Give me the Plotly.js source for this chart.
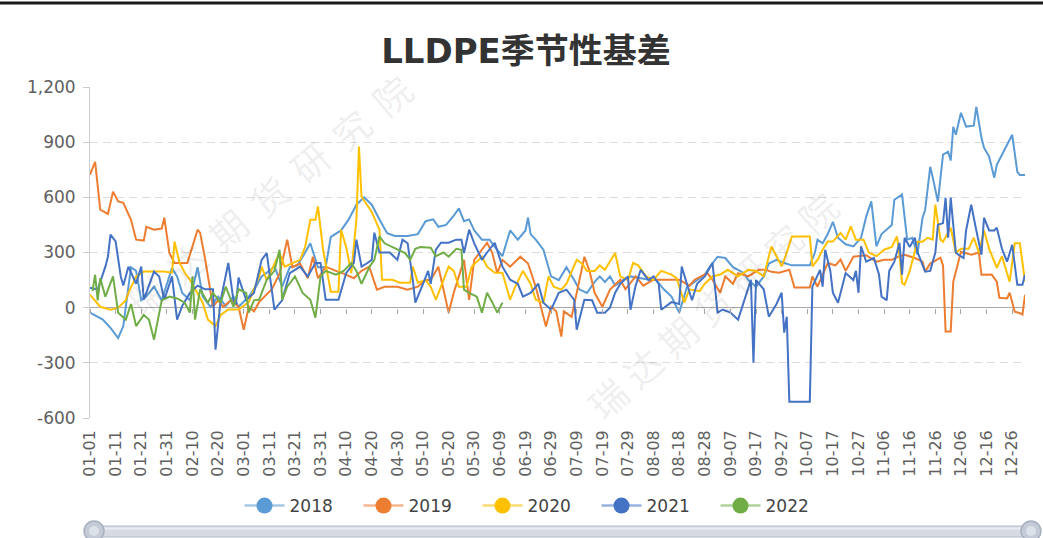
<!DOCTYPE html>
<html>
<head>
<meta charset="utf-8">
<script src="https://cdn.plot.ly/plotly-3.0.1.min.js"></script>
<style>
html,body{margin:0;padding:0;background:#fff;}
#chart{width:1043px;height:538px;}
</style>
</head>
<body>
<div id="chart"></div>
<script>
// ---------- data ----------
const chartTitle = 'LLDPE季节性基差';
const watermarkText = '瑞达期货研究院';
const seriesNames = ['2018', '2019', '2020', '2021', '2022'];
const seriesColors = ['#5B9BD5', '#ED7D31', '#FFC000', '#4472C4', '#70AD47'];
const legendLineColors = ['rgba(91,155,213,0.55)', 'rgba(237,125,49,0.55)', 'rgba(255,192,0,0.55)', 'rgba(68,114,196,0.55)', 'rgba(112,173,71,0.55)'];

const tickLabels = ['01-01','01-11','01-21','01-31','02-10','02-20','03-01','03-11','03-21','03-31','04-10','04-20','04-30','05-10','05-20','05-30','06-09','06-19','06-29','07-09','07-19','07-29','08-08','08-18','08-28','09-07','09-17','09-27','10-07','10-17','10-27','11-06','11-16','11-26','12-06','12-16','12-26'];
const monthLengths = [31,29,31,30,31,30,31,31,30,31,30,31];
const yTicks = [-600, -300, 0, 300, 600, 900, 1200];
const yTickText = ['-600', '-300', '0', '300', '600', '900', '1,200'];

const x2018 = ['01-01','01-04','01-06','01-09','01-12','01-14','01-17','01-19','01-21','01-23','01-26','01-29','02-02','02-04','02-06','02-09','02-12','02-14','02-17','02-20','02-23','02-26','02-28','03-03','03-06','03-08','03-11','03-13','03-16','03-19','03-22','03-25','03-27','03-30','04-02','04-04','04-08','04-11','04-14','04-17','04-20','04-23','04-26','04-29','05-04','05-08','05-11','05-14','05-16','05-19','05-22','05-24','05-26','05-28','05-30','06-02','06-05','06-07','06-10','06-13','06-16','06-19','06-20','06-21','06-23','06-26','06-29','07-02','07-05','07-08','07-10','07-13','07-16','07-18','07-20','07-22','07-24','07-27','07-30','08-03','08-07','08-09','08-12','08-15','08-18','08-21','08-24','08-28','08-30','09-02','09-05','09-08','09-12','09-14','09-17','09-20','09-22','09-25','09-28','10-01','10-05','10-08','10-10','10-11','10-13','10-15','10-17','10-19','10-22','10-25','10-28','10-30','11-01','11-03','11-05','11-07','11-09','11-10','11-13','11-15','11-17','11-19','11-21','11-22','11-24','11-25','11-27','11-29','12-01','12-02','12-03','12-04','12-06','12-08','12-11','12-12','12-14','12-15','12-17','12-19','12-20','12-23','12-26','12-28','12-29','12-31'];
const y2018 = [-27,-50,-65,-110,-165,-100,220,200,40,60,115,40,215,170,80,40,220,60,5,60,10,60,5,60,120,170,200,225,115,220,230,300,350,220,220,385,420,480,560,600,560,480,405,390,390,400,470,480,440,450,500,540,470,480,420,370,370,330,280,420,370,420,490,400,370,315,170,150,220,150,100,80,140,170,140,170,120,150,170,160,150,150,100,60,-27,110,140,180,223,277,270,220,190,150,114,170,240,260,243,230,230,230,300,370,350,400,467,380,345,333,380,495,578,333,400,424,450,587,615,370,380,290,489,530,766,707,576,832,848,800,984,940,1060,985,990,1092,924,870,821,707,777,859,940,739,722,722];

const x2019 = ['01-01','01-03','01-05','01-08','01-10','01-12','01-14','01-17','01-19','01-22','01-23','01-26','01-29','01-30','02-01','02-03','02-08','02-12','02-13','02-15','02-18','02-20','02-22','02-25','02-28','03-01','03-03','03-05','03-07','03-09','03-12','03-15','03-18','03-20','03-23','03-26','03-28','03-30','04-02','04-06','04-09','04-13','04-16','04-19','04-22','04-25','04-30','05-04','05-08','05-11','05-13','05-16','05-20','05-22','05-26','05-28','05-30','06-04','06-06','06-08','06-10','06-13','06-17','06-20','06-23','06-25','06-27','06-29','07-01','07-03','07-04','07-07','07-09','07-12','07-14','07-16','07-19','07-22','07-26','07-28','08-01','08-04','08-08','08-13','08-18','08-22','08-24','08-29','08-31','09-03','09-05','09-08','09-10','09-14','09-18','09-21','09-23','09-26','09-30','10-02','10-08','10-09','10-11','10-15','10-18','10-20','10-22','10-25','10-30','11-03','11-06','11-09','11-12','11-14','11-18','11-21','11-22','11-24','11-28','11-29','11-30','12-02','12-03','12-06','12-10','12-13','12-14','12-18','12-20','12-21','12-24','12-25','12-27','12-29','12-30','12-31'];
const y2019 = [723,793,533,510,631,578,570,478,370,365,440,424,430,489,297,243,243,424,407,260,5,40,5,40,5,-120,5,-20,30,60,100,185,370,220,240,160,277,160,223,200,185,160,200,223,98,114,114,98,114,150,150,223,-27,81,260,43,260,353,300,188,260,223,277,240,114,5,-103,5,-20,-157,-20,-50,81,277,200,81,5,98,152,100,170,120,152,152,152,120,152,188,152,81,170,130,188,170,206,206,195,190,206,109,109,170,114,243,230,261,200,277,285,250,260,260,280,288,270,250,196,240,272,230,-130,-130,141,304,288,300,179,180,141,54,50,81,-22,-30,-38,70];

const x2020 = ['01-01','01-05','01-09','01-12','01-15','01-16','01-19','01-22','01-26','01-30','02-02','02-03','02-05','02-07','02-09','02-14','02-16','02-19','02-21','02-24','02-28','03-03','03-07','03-08','03-10','03-13','03-15','03-17','03-20','03-23','03-25','03-27','03-29','03-30','04-01','04-04','04-07','04-08','04-10','04-12','04-14','04-15','04-16','04-18','04-20','04-23','04-24','04-28','05-01','05-05','05-06','05-08','05-11','05-13','05-15','05-17','05-20','05-22','05-24','05-27','05-29','06-02','06-04','06-07','06-10','06-13','06-15','06-18','06-21','06-23','06-26','06-28','06-30','07-03','07-05','07-09','07-11','07-13','07-16','07-18','07-20','07-24','07-26','07-29','07-31','08-02','08-05','08-08','08-11','08-15','08-17','08-20','08-22','08-26','08-28','08-31','09-03','09-06','09-10','09-14','09-17','09-20','09-23','09-25','09-27','09-29','10-01','10-08','10-09','10-11','10-13','10-15','10-17','10-20','10-22','10-24','10-26','10-29','10-31','11-03','11-06','11-09','11-11','11-12','11-13','11-14','11-16','11-19','11-21','11-23','11-25','11-26','11-28','11-29','12-02','12-04','12-06','12-09','12-11','12-13','12-15','12-17','12-20','12-22','12-25','12-27','12-29','12-31'];
const y2020 = [70,5,-11,0,40,81,170,196,196,196,190,359,243,190,152,27,-65,-100,-40,-10,-10,30,170,223,150,240,297,223,240,260,331,478,478,550,315,87,87,424,330,188,478,876,603,560,520,424,152,152,136,136,223,136,150,114,43,114,223,200,114,114,223,277,223,190,190,43,114,200,130,43,27,170,114,98,130,260,240,200,200,230,206,297,170,150,243,230,170,152,200,180,160,27,100,90,130,170,180,206,170,206,200,170,333,280,225,300,387,387,225,260,315,360,360,406,370,442,370,370,300,280,315,330,387,288,135,125,200,359,359,380,370,560,370,359,435,300,320,320,380,300,420,320,217,280,141,350,350,141];

const x2021 = ['01-01','01-04','01-07','01-08','01-09','01-11','01-13','01-14','01-16','01-19','01-21','01-22','01-24','01-26','01-28','01-30','02-02','02-04','02-06','02-09','02-12','02-15','02-18','02-19','02-21','02-24','02-26','02-27','02-28','03-02','03-05','03-08','03-10','03-13','03-16','03-19','03-23','03-26','03-29','03-31','04-02','04-07','04-10','04-13','04-14','04-16','04-18','04-20','04-21','04-23','04-27','04-30','05-02','05-04','05-06','05-07','05-10','05-12','05-13','05-15','05-17','05-20','05-23','05-25','05-26','05-28','05-30','06-02','06-04','06-07','06-10','06-13','06-16','06-18','06-21','06-24','06-26','06-29','07-02','07-05','07-08','07-09','07-12','07-15','07-17','07-20','07-22','07-24','07-26','07-29','07-30','08-01','08-03','08-06','08-08','08-10','08-11','08-15','08-18','08-19','08-21','08-23','08-25','08-28','08-31','09-02','09-04','09-07','09-10','09-13','09-15','09-16','09-17','09-20','09-22','09-25','09-27','09-28','09-29','09-30','10-08','10-09','10-12','10-13','10-14','10-16','10-17','10-19','10-22','10-25','10-26','10-27','10-28','10-30','11-02','11-04','11-05','11-07','11-08','11-10','11-12','11-13','11-14','11-16','11-18','11-19','11-22','11-24','11-26','11-27','11-29','11-30','12-01','12-02','12-04','12-05','12-07','12-08','12-10','12-12','12-14','12-15','12-17','12-19','12-20','12-22','12-24','12-26','12-28','12-30','12-31'];
const y2021 = [109,98,223,277,397,360,170,120,223,130,223,43,120,196,170,43,170,-65,10,80,120,100,100,-228,40,243,40,20,163,40,80,260,297,-11,40,188,223,170,243,243,43,43,188,243,370,223,240,260,408,300,300,260,370,350,152,27,130,200,130,315,353,353,370,370,297,424,350,260,300,353,223,152,130,60,80,130,27,-11,81,98,43,-120,43,40,-27,-27,0,81,130,170,-11,120,206,150,170,130,-11,30,20,223,130,40,130,170,243,-27,-10,-27,-65,60,152,-300,150,100,-49,20,81,-136,-49,-511,-511,114,206,114,315,200,81,27,188,150,200,81,333,250,270,180,60,40,200,250,353,179,380,330,380,304,196,200,300,451,460,598,380,598,300,288,270,420,560,420,288,489,420,420,435,320,250,342,125,125,179];

const x2022 = ['01-02','01-03','01-04','01-05','01-07','01-10','01-12','01-15','01-17','01-19','01-22','01-24','01-26','01-29','02-01','02-04','02-07','02-09','02-10','02-11','02-13','02-16','02-18','02-21','02-23','02-26','02-28','03-02','03-03','03-05','03-07','03-10','03-13','03-15','03-16','03-18','03-21','03-24','03-27','03-29','03-31','04-02','04-06','04-09','04-12','04-14','04-16','04-19','04-21','04-23','04-25','04-28','05-03','05-05','05-07','05-09','05-11','05-13','05-15','05-18','05-20','05-23','05-25','05-26','05-28','05-31','06-02','06-04','06-06','06-08','06-10'];
const y2022 = [90,179,40,160,60,170,-27,-65,20,-100,-40,-65,-174,40,60,50,27,-27,170,-65,100,27,80,27,114,5,100,80,-27,40,43,152,200,315,43,114,170,80,43,-54,170,200,180,200,243,200,130,220,260,388,350,330,297,260,320,330,330,326,280,300,277,320,315,98,81,60,-27,81,30,-27,27];

// ---------- categories (every day of a leap year) ----------
const days = [];
monthLengths.forEach(function (len, m) {
  for (let d = 1; d <= len; d++) {
    days.push(String(m + 1).padStart(2, '0') + '-' + String(d).padStart(2, '0'));
  }
});

// ---------- layout geometry ----------
const W = 1043, H = 538;
const PL = 90, PR = 1025, PT = 87, PB = 418;
const fx = function (px) { return (px - PL) / (PR - PL); };
const fy = function (py) { return (PB - py) / (PB - PT); };

const xs = [x2018, x2019, x2020, x2021, x2022];
const ys = [y2018, y2019, y2020, y2021, y2022];

const traces = [];
seriesNames.forEach(function (name, i) {
  traces.push({
    type: 'scatter', mode: 'lines', name: name,
    x: xs[i], y: ys[i],
    line: { color: seriesColors[i], width: 2 },
    showlegend: false, hoverinfo: 'x+y'
  });
});
seriesNames.forEach(function (name, i) {
  traces.push({
    type: 'scatter', mode: 'lines+markers', name: name,
    x: [null], y: [null],
    line: { color: legendLineColors[i], width: 2.5 },
    marker: { color: seriesColors[i], size: 16 },
    showlegend: true, hoverinfo: 'skip'
  });
});
// carrier trace for the tick marks drawn on the zero line
traces.push({ type: 'scatter', mode: 'lines', x: [days[0]], y: [null], xaxis: 'x2', yaxis: 'y', showlegend: false, hoverinfo: 'skip' });

// ---------- watermark ----------
const annotations = [];
const wm = [
  { sx: 145, sy: 296, dx: 41, dy: -33.5, ang: -40 },
  { sx: 607, sy: 398, dx: 35, dy: -31, ang: -42 }
];
wm.forEach(function (w) {
  Array.from(watermarkText).forEach(function (ch, k) {
    annotations.push({
      xref: 'paper', yref: 'paper',
      x: fx(w.sx + k * w.dx), y: fy(w.sy + k * w.dy),
      text: ch, showarrow: false, textangle: w.ang,
      xanchor: 'center', yanchor: 'middle',
      font: { family: 'Noto Sans CJK SC', size: 37, color: 'rgba(0,0,0,0.085)' }
    });
  });
});

// ---------- decorative shapes (top rule and the zoom slider) ----------
const shapes = [
  { type: 'line', xref: 'paper', yref: 'paper', x0: fx(0), x1: fx(W), y0: fy(3), y1: fy(3), line: { color: '#1a1a1a', width: 3 } },
  { type: 'rect', xref: 'paper', yref: 'paper', x0: fx(96), x1: fx(1030), y0: fy(537), y1: fy(526), fillcolor: '#d5dae3', line: { color: '#b4bccb', width: 1 } },
  { type: 'line', xref: 'paper', yref: 'paper', x0: fx(100), x1: fx(1026), y0: fy(528.5), y1: fy(528.5), line: { color: '#e9ecf2', width: 2 } },
  { type: 'circle', xref: 'paper', yref: 'paper', x0: fx(84), x1: fx(104), y0: fy(541), y1: fy(521), fillcolor: '#c4cbd7', line: { color: '#a7b0bf', width: 1.5 } },
  { type: 'circle', xref: 'paper', yref: 'paper', x0: fx(89), x1: fx(99), y0: fy(536), y1: fy(526), fillcolor: '#dde2ea', line: { width: 0 } },
  { type: 'circle', xref: 'paper', yref: 'paper', x0: fx(1021), x1: fx(1041), y0: fy(541), y1: fy(521), fillcolor: '#c4cbd7', line: { color: '#a7b0bf', width: 1.5 } },
  { type: 'circle', xref: 'paper', yref: 'paper', x0: fx(1026), x1: fx(1036), y0: fy(536), y1: fy(526), fillcolor: '#dde2ea', line: { width: 0 } }
];

const layout = {
  width: W, height: H,
  margin: { l: PL, r: W - PR, t: PT, b: H - PB, pad: 0 },
  paper_bgcolor: '#ffffff', plot_bgcolor: '#ffffff',
  title: {
    text: chartTitle,
    x: 526 / W, xref: 'container', xanchor: 'center',
    y: 1 - 51 / H, yref: 'container', yanchor: 'middle',
    font: { family: 'DejaVu Sans, Noto Sans CJK SC', size: 34, color: '#333333', weight: 'bold' }
  },
  showlegend: true,
  legend: {
    orientation: 'h', xref: 'paper', yref: 'paper',
    x: fx(537), xanchor: 'center', y: fy(506), yanchor: 'middle',
    font: { family: 'DejaVu Sans', size: 17, color: '#444444' },
    bgcolor: 'rgba(0,0,0,0)', itemwidth: 40, entrywidth: 64, entrywidthmode: 'pixels',
    itemclick: false, itemdoubleclick: false
  },
  xaxis: {
    type: 'category', categoryorder: 'array', categoryarray: days,
    range: [0, days.length - 1], fixedrange: true,
    tickmode: 'array', tickvals: tickLabels, ticktext: tickLabels,
    tickangle: -90, ticks: '', ticklabelstandoff: 8,
    showgrid: false, showline: false, zeroline: false,
    tickfont: { family: 'DejaVu Sans', size: 16, color: '#606060' }
  },
  xaxis2: {
    type: 'category', categoryorder: 'array', categoryarray: days,
    range: [0, days.length - 1], fixedrange: true,
    overlaying: 'x', anchor: 'free', position: fy(308),
    tickmode: 'array', tickvals: tickLabels, showticklabels: false,
    ticks: 'outside', ticklen: 5, tickcolor: '#a8a8a8', tickwidth: 1,
    showgrid: false, showline: false, zeroline: false
  },
  yaxis: {
    range: [-600, 1200], fixedrange: true,
    tickmode: 'array', tickvals: yTicks, ticktext: yTickText,
    showgrid: true, gridcolor: '#dcdcdc', griddash: '8px,5px', gridwidth: 1,
    zeroline: true, zerolinecolor: '#a8a8a8', zerolinewidth: 1,
    showline: true, linecolor: '#cccccc', linewidth: 1,
    ticks: 'outside', ticklen: 6, tickcolor: '#cccccc',
    ticklabelstandoff: 4,
    tickfont: { family: 'DejaVu Sans', size: 17, color: '#606060' }
  },
  annotations: annotations,
  shapes: shapes
};

Plotly.newPlot('chart', traces, layout, { staticPlot: true, displayModeBar: false });
</script>
</body>
</html>
